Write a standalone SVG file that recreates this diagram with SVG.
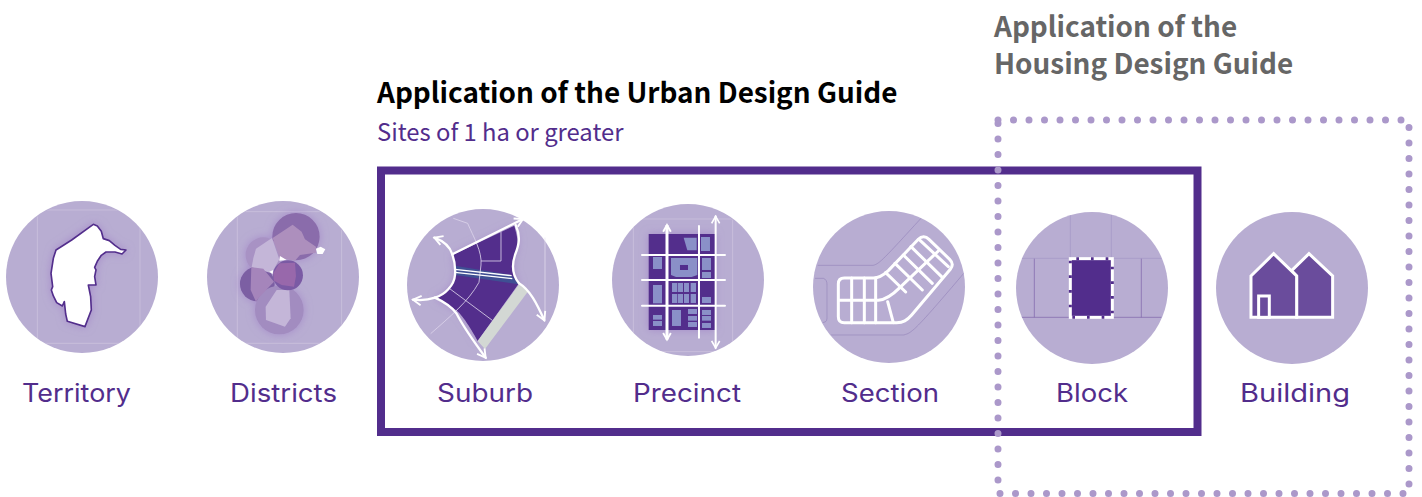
<svg xmlns="http://www.w3.org/2000/svg" width="1422" height="497" viewBox="0 0 1422 497">
<style>
.disc{fill:#b8add2}
.frame{fill:none;stroke:#e0d9ec;stroke-width:2;opacity:.6}
.lab{font-family:"Inter","Open Sans",sans-serif;font-size:25px;fill:#522d8c}
.h{font-family:"Noto Sans CJK SC","Noto Sans",sans-serif;font-weight:700;font-size:27.900px}
.wl{fill:none;stroke:#fff;stroke-linecap:round;stroke-linejoin:round}
.tile{fill:#8a90c8}
</style>
<defs>
<filter id="sh" x="-30%" y="-30%" width="160%" height="160%"><feGaussianBlur in="SourceAlpha" stdDeviation="12"/><feColorMatrix values="0 0 0 0 .32 0 0 0 0 .18 0 0 0 0 .55 0 0 0 .6 0"/><feMerge><feMergeNode/><feMergeNode in="SourceGraphic"/></feMerge></filter>
<marker id="ah" viewBox="0 0 10 10" refX="8" refY="5" markerWidth="5" markerHeight="5" orient="auto-start-reverse"><path d="M1,1 L8,5 L1,9" fill="none" stroke="#fff" stroke-width="1.600"/></marker>
<marker id="ah2" viewBox="0 0 10 10" refX="8" refY="5" markerWidth="3.200" markerHeight="3.200" orient="auto-start-reverse"><path d="M1,1 L8,5 L1,9" fill="none" stroke="#fff" stroke-width="2"/></marker>
<clipPath id="c1"><circle cx="247" cy="262" r="227"/></clipPath>
<clipPath id="c2"><circle cx="848" cy="262" r="227"/></clipPath>
<clipPath id="c3"><circle cx="263" cy="256" r="227"/></clipPath>
<clipPath id="c4"><circle cx="320" cy="264" r="227"/></clipPath>
<clipPath id="c5"><circle cx="253" cy="260" r="227"/></clipPath>
</defs>
<g id="territory">
<circle class="disc" cx="82" cy="277" r="76"/>
<g transform="translate(0,190) scale(.3333)">
<path class="frame" clip-path="url(#c1)" d="M112,460V60H420V460Z"/>
<path filter="url(#sh)" fill="#fff" stroke="#522d8c" stroke-width="5" stroke-linejoin="round" d="M280,103L292,108L304,124L310,146L328,152L345,166L362,178L378,180L366,192L345,186L318,186L304,196L292,214L284,232L288,240L284,260L288,285L265,285L272,320L274,360L255,410L202,394L197,372L193,335L187,348L170,338L160,318L154,300L158,290L153,250L160,205L168,180L215,150Z"/>
</g>
<text class="lab" x="22" y="402" textLength="109" lengthAdjust="spacingAndGlyphs">Territory</text>
</g>
<g id="districts">
<circle class="disc" cx="283" cy="277" r="76"/>
<g transform="translate(0,190) scale(.3333)">
<path class="frame" clip-path="url(#c2)" d="M712,460V65H1025V460Z"/>
<g filter="url(#sh)">
<circle cx="888" cy="140" r="71" fill="#8a6cab"/>
<circle cx="790" cy="195" r="53" fill="#a892c4"/>
<circle cx="772" cy="282" r="52" fill="#7b5ea3"/>
<circle cx="838" cy="360" r="73" fill="#a28cc0"/>
</g>
<path fill="#c4b6d8" d="M816,144L768,176L760,205L755,232L815,250L838,208Z"/>
<path fill="#c4b6d8" d="M797,350L830,300L868,300L872,385L855,410L798,390Z"/>
<path fill="#ad8fbd" d="M818,144L878,104L905,125L915,148L948,170L948,188L900,195L885,212L840,205Z"/>
<path fill="#a585bb" d="M754,232L790,236L822,275L775,325L768,335L752,300Z"/>
<path fill="#fff" d="M948,176L962,170L976,178L968,192L952,192Z"/>
<path fill="#fff" d="M840,198L860,210L838,212ZM808,245L820,240L818,252Z"/>
<circle cx="864" cy="256" r="45" fill="#7a5aa4"/>
<path fill="#9868ab" d="M820,250L838,220L885,218L888,258L882,290L845,285L822,272Z"/>
</g>
<text class="lab" x="230" y="402" textLength="107" lengthAdjust="spacingAndGlyphs">Districts</text>
</g>
<g id="suburb">
<circle class="disc" cx="483" cy="285" r="76"/>
<g transform="translate(395,195) scale(.3333)">
<path fill="none" stroke="#e8e3f1" stroke-width="2" d="M450,128V375"/>
<path filter="url(#sh)" fill="#522d8c" d="M172,180L358,92C368,130 372,145 362,175C352,205 350,235 372,265L248,438C225,395 195,350 178,342C155,325 135,320 120,308C150,300 178,270 180,240C182,215 178,195 172,180Z"/>
<path fill="#d3d8d4" d="M372,268L400,288L270,462L248,438Z"/>
<path fill="#3f4f93" d="M180,212L348,240L372,268L180,240Z"/>
<path fill="none" stroke="#dcd4ea" stroke-width="2.500" d="M175,70L218,85C235,125 262,170 258,210L252,262C220,320 165,365 107,416M318,110V198L258,198M160,278L292,376"/>
<path fill="none" stroke="#fff" stroke-width="4" d="M180,223L350,242M180,232L352,251"/>
<path class="wl" stroke-width="7" marker-end="url(#ah)" d="M172,178L384,72"/>
<path class="wl" stroke-width="7" marker-end="url(#ah)" d="M172,178C165,155 145,138 118,128"/>
<path class="wl" stroke-width="7" marker-end="url(#ah)" d="M120,308C100,315 80,317 54,314"/>
<path class="wl" stroke-width="7" marker-end="url(#ah)" d="M120,308C150,322 170,335 184,355C205,395 240,445 272,488"/>
<path class="wl" stroke-width="7" marker-end="url(#ah)" d="M372,265C405,285 425,325 448,376"/>
<path class="wl" stroke-width="7" d="M362,90C378,125 372,150 360,180C350,210 352,240 372,265"/>
<path class="wl" stroke-width="7" d="M172,178C178,195 182,215 180,240C178,270 150,300 120,308"/>
</g>
<text class="lab" x="437" y="402" textLength="96" lengthAdjust="spacingAndGlyphs">Suburb</text>
</g>
<g id="precinct">
<circle class="disc" cx="688" cy="280" r="76"/>
<g transform="translate(600,195) scale(.3333)">
<path class="frame" clip-path="url(#c3)" d="M100,470V72H398V470Z"/>
<rect filter="url(#sh)" x="146" y="117" width="199" height="288" fill="#522d8c"/>
<g class="tile">
<path d="M251,128H290V166H262Z"/>
<rect x="303" y="126" width="27" height="42"/>
<rect x="159" y="186" width="27" height="36"/>
<path d="M213,189H292V240L275,246H228L213,240Z"/>
<rect x="306" y="189" width="27" height="36"/>
<rect x="306" y="231" width="27" height="18"/>
<rect x="159" y="270" width="27" height="55"/>
<rect x="216" y="264" width="16" height="27"/><rect x="234" y="264" width="15" height="27"/><rect x="252" y="264" width="15" height="27"/><rect x="272" y="264" width="16" height="27"/>
<rect x="216" y="297" width="16" height="27"/><rect x="234" y="297" width="15" height="27"/><rect x="252" y="297" width="15" height="27"/><rect x="272" y="297" width="16" height="27"/>
<rect x="306" y="306" width="27" height="18"/>
<rect x="159" y="360" width="27" height="14"/><rect x="159" y="378" width="27" height="15"/>
<rect x="216" y="345" width="27" height="48"/>
<rect x="264" y="342" width="27" height="15"/><rect x="264" y="363" width="27" height="14"/><rect x="264" y="381" width="27" height="15"/>
<rect x="306" y="345" width="27" height="15"/><rect x="306" y="363" width="27" height="14"/><rect x="306" y="384" width="27" height="15"/>
</g>
<rect x="240" y="210" width="24" height="15" fill="#522d8c"/>
<path class="wl" stroke-width="6" stroke-linecap="butt" d="M126,180H375M126,255H375M126,332H375M297,93V428"/>
<path class="wl" stroke-width="9" marker-start="url(#ah2)" marker-end="url(#ah2)" d="M201,90V434" style="stroke-linecap:butt"/>
<path class="wl" stroke-width="6" marker-start="url(#ah)" marker-end="url(#ah)" d="M347,64V459"/>
</g>
<text class="lab" x="633" y="402" textLength="108" lengthAdjust="spacingAndGlyphs">Precinct</text>
</g>
<g id="section">
<circle class="disc" cx="889" cy="287" r="76"/>
<g transform="translate(805,200) scale(.3333)">
<path fill="none" stroke="#8d7db5" stroke-width="1.600" clip-path="url(#c5)" d="M38,196H205C225,190 235,178 348,55M30,235H55C64,238 66,245 66,255V355C66,365 60,368 48,368M78,405H295C320,400 330,392 478,218"/>
<g class="wl" stroke-width="9">
<path d="M118,234H205C222,234 235,226 250,212L340,118C350,108 362,108 372,118L434,178C444,188 444,198 436,208L320,345C305,362 295,368 275,368H118C105,368 100,362 100,350V252C100,240 106,234 118,234Z"/>
<path d="M102,301H220C245,298 262,285 282,265L400,153M140,234V368M178,234V368M212,234V368M248,305L265,368"/>
<path d="M242,218L302,276M270,190L352,270M295,165L382,250M318,140L412,232M342,118L430,200"/>
</g>
</g>
<text class="lab" x="841" y="402" textLength="98" lengthAdjust="spacingAndGlyphs">Section</text>
</g>
<g id="block">
<circle class="disc" cx="1092" cy="288" r="76"/>
<g transform="translate(985,200) scale(.3333)">
<g clip-path="url(#c4)">
<path fill="none" stroke="#a294c4" stroke-width="2" d="M256,30V175M379,30V175M90,175H550"/>
<path fill="none" stroke="#7a5fa8" stroke-width="2" d="M148,176V352M469,176V352M90,352H550"/>
</g>
<rect x="256" y="176" width="126" height="176" fill="#522d8c" stroke="#fff" stroke-width="9"/>
<rect x="256" y="176" width="126" height="176" fill="none" stroke="#522d8c" stroke-width="9" stroke-dasharray="8 36" stroke-dashoffset="-18"/>
</g>
<text class="lab" x="1056" y="402" textLength="72" lengthAdjust="spacingAndGlyphs">Block</text>
</g>
<g id="building">
<circle class="disc" cx="1292" cy="288" r="76"/>
<g transform="translate(985,200) scale(.3333)">
<path fill="#6a4c9c" stroke="#fff" stroke-width="9" d="M920,212L972,161L1043,228V352H935V228Z"/>
<path fill="#6a4c9c" stroke="#fff" stroke-width="9" d="M798,228L866,161L935,228V352H798Z"/>
<rect x="821" y="288" width="32" height="64" fill="#6a4c9c" stroke="#fff" stroke-width="9"/>
</g>
<text class="lab" x="1240" y="402" textLength="110" lengthAdjust="spacingAndGlyphs">Building</text>
</g>
<g id="urban-guide">
<rect x="381" y="170.500" width="816.500" height="261.500" fill="none" stroke="#522d8c" stroke-width="8"/>
<text class="h" x="377" y="103" fill="#000">Application of the Urban Design Guide</text>
<text x="377" y="141" font-family="'Noto Sans CJK SC','Noto Sans',sans-serif" font-size="23.800px" fill="#522d8c">Sites of 1 ha or greater</text>
</g>
<g id="housing-guide">
<path d="M998,120H1409V493.500H998Z" fill="none" stroke="#ab98ca" stroke-width="7" stroke-linecap="round" stroke-dasharray="0 15.500"/>
<text class="h" x="994" y="37" fill="#666">Application of the</text>
<text class="h" x="994" y="74" fill="#666">Housing Design Guide</text>
</g>
</svg>
